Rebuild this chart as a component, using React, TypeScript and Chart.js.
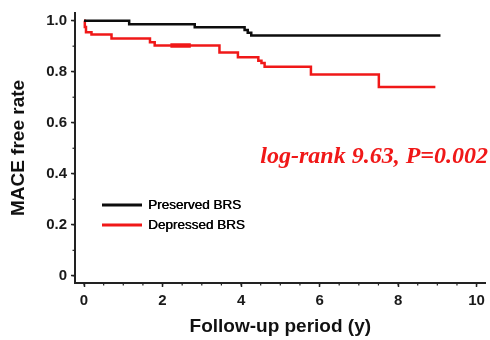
import { useEffect, useRef } from "react";
import { Chart, registerables } from "chart.js";

Chart.register(...registerables);

const seriesLabels = ["Preserved BRS", "Depressed BRS"];
const preservedTimes = [0, 1.15, 2.82, 4.09, 4.17, 4.26, 9.08];
const preservedSurvival = [1.0, 0.986, 0.974, 0.963, 0.953, 0.942, 0.942];
const depressedTimes = [0, 0.02, 0.05, 0.19, 0.7, 1.68, 1.8, 3.45, 3.92, 4.44, 4.52, 4.6, 5.78, 7.51, 8.95];
const depressedSurvival = [1.0, 0.975, 0.955, 0.946, 0.93, 0.915, 0.903, 0.875, 0.857, 0.843, 0.834, 0.819, 0.789, 0.74, 0.74];
const depressedCensorTimes = [2.2, 2.72];
const depressedCensorSurvival = [0.903, 0.903];
const xTicks = [0, 2, 4, 6, 8, 10];
const yTicks = [0, 0.2, 0.4, 0.6, 0.8, 1.0];
const xMinorStep = 0.5;
const yMinorStep = 0.1;
const annotationText = "log-rank 9.63, P=0.002";
const xTitle = "Follow-up period (y)";
const yTitle = "MACE free rate";

const BLACK = "#0d0d0d";
const RED = "#f01818";
const AXIS = "#222222";

const toPoints = (xs: number[], ys: number[]) => xs.map((x, i) => ({ x, y: ys[i] }));

export default function App() {
  const ref = useRef<HTMLCanvasElement | null>(null);

  useEffect(() => {
    if (!ref.current) return;

    const extras = {
      id: "extras",
      afterDraw(chart: any) {
        const ctx = chart.ctx as CanvasRenderingContext2D;
        const xs = chart.scales.x;
        const ys = chart.scales.y;
        const ca = chart.chartArea;
        ctx.save();
        // minor ticks
        ctx.strokeStyle = AXIS;
        ctx.lineWidth = 1.2;
        for (let v = xTicks[0]; v <= xTicks[xTicks.length - 1] + 1e-9; v += xMinorStep) {
          const px = xs.getPixelForValue(v);
          ctx.beginPath();
          ctx.moveTo(px, ca.bottom);
          ctx.lineTo(px, ca.bottom + 2.5);
          ctx.stroke();
        }
        for (let v = yTicks[0]; v <= yTicks[yTicks.length - 1] + 1e-9; v += yMinorStep) {
          const py = ys.getPixelForValue(v);
          ctx.beginPath();
          ctx.moveTo(ca.left, py);
          ctx.lineTo(ca.left - 2.5, py);
          ctx.stroke();
        }
        // legend
        const ds = chart.data.datasets;
        const legendX = ca.left + 27;
        const legendY = [205, 225];
        ctx.font = "13.5px 'Liberation Sans', Arial, sans-serif";
        ctx.textBaseline = "middle";
        for (let i = 0; i < 2; i++) {
          ctx.strokeStyle = ds[i].borderColor;
          ctx.lineWidth = 3;
          ctx.beginPath();
          ctx.moveTo(legendX, legendY[i]);
          ctx.lineTo(legendX + 40, legendY[i]);
          ctx.stroke();
          ctx.fillStyle = "#000";
          ctx.fillText(ds[i].label, legendX + 46, legendY[i] + 0.5);
          ctx.fillText(ds[i].label, legendX + 46.4, legendY[i] + 0.5);
        }
        // annotation
        ctx.font = "italic bold 24px 'Liberation Serif', 'Times New Roman', serif";
        ctx.fillStyle = RED;
        ctx.textBaseline = "alphabetic";
        ctx.textAlign = "right";
        ctx.fillText(annotationText, 488, 163);
        ctx.restore();
      },
    };

    const chart = new Chart(ref.current, {
      type: "line",
      data: {
        datasets: [
          {
            label: seriesLabels[0],
            data: toPoints(preservedTimes, preservedSurvival),
            borderColor: BLACK,
            borderWidth: 2.5,
            stepped: "before",
            pointRadius: 0,
            fill: false,
          },
          {
            label: seriesLabels[1],
            data: toPoints(depressedTimes, depressedSurvival),
            borderColor: RED,
            borderWidth: 2.5,
            stepped: "before",
            pointRadius: 0,
            fill: false,
          },
          {
            label: "censor",
            data: toPoints(depressedCensorTimes, depressedCensorSurvival),
            borderColor: RED,
            borderWidth: 4.5,
            pointRadius: 0,
            fill: false,
          },
        ],
      },
      options: {
        animation: false,
        responsive: false,
        maintainAspectRatio: false,
        layout: { padding: { top: 7, right: 3, left: 0, bottom: 0 } },
        plugins: { legend: { display: false }, tooltip: { enabled: false } },
        scales: {
          x: {
            type: "linear",
            min: -0.23,
            max: 10.23,
            afterBuildTicks: (s: any) => {
              s.ticks = xTicks.map((v) => ({ value: v }));
            },
            afterFit: (s: any) => {
              s.height = 57;
            },
            border: { display: true, color: AXIS, width: 2 },
            grid: { drawOnChartArea: false, drawTicks: true, tickLength: 4, tickWidth: 1.5, tickColor: AXIS },
            ticks: {
              color: "#1a1a1a",
              padding: 5,
              maxRotation: 0,
              autoSkip: false,
              font: { family: "'Liberation Sans', Arial, sans-serif", size: 15, weight: "bold" },
              callback: (v: any) => String(v),
            },
            title: {
              display: true,
              text: xTitle,
              color: "#111",
              padding: { top: 0, bottom: 2 },
              font: { family: "'Liberation Sans', Arial, sans-serif", size: 19, weight: "bold" },
            },
          },
          y: {
            type: "linear",
            min: -0.028,
            max: 1.03,
            afterBuildTicks: (s: any) => {
              s.ticks = yTicks.map((v) => ({ value: v }));
            },
            afterFit: (s: any) => {
              s.width = 75;
            },
            border: { display: true, color: AXIS, width: 2 },
            grid: { drawOnChartArea: false, drawTicks: true, tickLength: 4, tickWidth: 1.5, tickColor: AXIS },
            ticks: {
              color: "#1a1a1a",
              padding: 4,
              autoSkip: false,
              font: { family: "'Liberation Sans', Arial, sans-serif", size: 15, weight: "bold" },
              callback: (v: any) => (Number(v) === 0 ? "0" : Number(v).toFixed(1)),
            },
            title: {
              display: true,
              text: yTitle,
              color: "#111",
              padding: { top: 7, bottom: 0 },
              font: { family: "'Liberation Sans', Arial, sans-serif", size: 19, weight: "bold" },
            },
          },
        },
      },
      plugins: [extras],
    } as any);

    return () => chart.destroy();
  }, []);

  return (
    <div style={{ position: "fixed", left: 0, top: 0, width: 490, height: 340, background: "#fff" }}>
      <canvas ref={ref} width={490} height={340} style={{ width: 490, height: 340, display: "block" }} />
    </div>
  );
}
